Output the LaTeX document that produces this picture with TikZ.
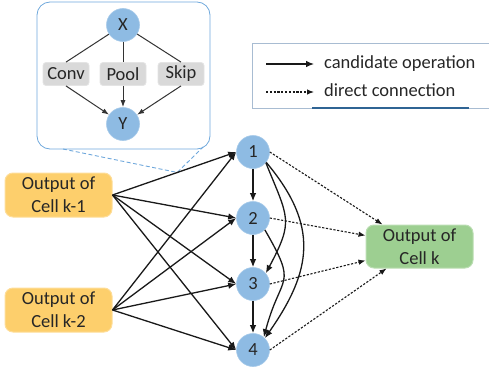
\documentclass[tikz,border=0pt]{standalone}
\usepackage{fontspec}
\setmainfont{Carlito}
\usetikzlibrary{arrows.meta,calc}
\definecolor{nodeblue}{HTML}{8EBBE3}
\definecolor{gold}{HTML}{FDCF6C}
\definecolor{leaf}{HTML}{9DCF91}
\definecolor{opgray}{HTML}{D9D9D9}
\definecolor{insetblue}{HTML}{6FA8DC}
\definecolor{txt}{HTML}{262626}
\definecolor{legendline}{HTML}{A8BCD2}
\definecolor{underline}{HTML}{2F6494}
\tikzset{
  every node/.style={text=txt, font=\fontsize{18.5}{23}\selectfont},
  cnode/.style={circle, fill=nodeblue, draw=nodeblue!80!white, line width=0.6pt, minimum size=33pt, inner sep=0pt},
  srcbox/.style={rounded corners=8pt, fill=gold, draw=gold!70!white, line width=1pt, minimum width=107pt, minimum height=44pt, align=center, inner sep=0pt},
  dstbox/.style={rounded corners=8pt, fill=leaf, draw=leaf!70!white, line width=1pt, minimum width=107pt, minimum height=43pt, align=center, inner sep=0pt},
  opbox/.style={rounded corners=3pt, fill=opgray, draw=opgray!70!white, line width=0.8pt, minimum width=46pt, minimum height=23pt, inner sep=0pt},
  arr/.style={-{Latex[length=8pt,width=6.5pt]}, line width=1.3pt, draw=black!90},
  darr/.style={-{Latex[length=7pt,width=5.5pt]}, line width=1.1pt, draw=black!90, dash pattern=on 2.2pt off 1.6pt},
  iline/.style={line width=1pt, draw=black!80},
  iarr/.style={-{Latex[length=7pt,width=5pt]}, line width=1pt, draw=black!80},
}
\begin{document}
\begin{tikzpicture}[x=1pt,y=1pt]
\useasboundingbox (0,0) rectangle (489,-372);

% inset
\draw[insetblue, line width=0.8pt, rounded corners=13pt] (37,-2) rectangle (210,-149);
\node[cnode] (X) at (123,-25) {X};
\node[cnode] (Y) at (123,-124) {Y};
\node[opbox] (conv) at (66,-74) {Conv};
\node[opbox] (pool) at (123,-74) {Pool};
\node[opbox] (skip) at (181,-74) {Skip};
\draw[iline] (X) -- (conv.north);
\draw[iline] (X) -- (pool.north);
\draw[iline] (X) -- (skip.north);
\draw[iarr] (conv.south) -- (Y);
\draw[iarr] (pool.south) -- (Y);
\draw[iarr] (skip.south) -- (Y);

% legend
\draw[legendline, line width=0.8pt] (490,-43) -- (252,-43) -- (252,-108) -- (490,-108);
\draw[underline, line width=1.6pt] (312,-108) -- (469,-108);
\coordinate (la1) at (266,-64);
\coordinate (la2) at (314,-64);
\coordinate (lb1) at (266,-92);
\coordinate (lb2) at (314,-92);
\draw[arr, line width=1.1pt] (la1) -- (la2);
\draw[darr] (lb1) -- (lb2);
\node[anchor=base west, inner sep=0pt] (lta) at (324,-68.5) {candidate operation};
\node[anchor=base west, inner sep=0pt] (ltb) at (324,-96.5) {direct connection};

% main nodes
\node[srcbox] (k1) at (58.5,-195) {Output of\\Cell k-1};
\node[srcbox] (k2) at (58.5,-310) {Output of\\Cell k-2};
\node[dstbox] (ck) at (419.5,-246.5) {Output of\\Cell k};
\node[cnode] (n1) at (253,-152) {1};
\node[cnode] (n2) at (253,-218) {2};
\node[cnode] (n3) at (253,-284) {3};
\node[cnode] (n4) at (253,-350) {4};

% zoom lines
\coordinate (zp) at ($(k1.east)!0.524!(n1.west)$);
\coordinate (zl) at (63,-149);
\coordinate (zr) at (203,-147);
\draw[insetblue, line width=0.9pt, dash pattern=on 4pt off 2.5pt] (zl) -- (zp) -- (zr);

% inputs
\foreach \s in {k1,k2}{
  \foreach \t in {n1,n2,n3,n4}{
    \draw[arr] (\s.east) -- (\t.west);
  }
}
% internal
\draw[arr] (n1) -- (n2);
\draw[arr] (n2) -- (n3);
\draw[arr] (n3) -- (n4);
\draw[arr] (n1.-40) to[out=-68,in=62,looseness=1.4] (n3.40);
\draw[arr] (n1.-38) to[out=-50,in=55,looseness=1.2] (n4.45);
\draw[arr] (n2.-45) to[out=-60,in=75,looseness=1.6] (n4.50);

% outputs
\draw[darr] (n1.east) -- ($(ck.north west)+(17,0)$);
\draw[darr] (n2.east) -- ($(ck.west)+(0,11)$);
\draw[darr] (n3.east) -- ($(ck.west)+(0,-14)$);
\draw[darr] (n4.east) -- ($(ck.south west)+(21,0)$);
\end{tikzpicture}
\end{document}
